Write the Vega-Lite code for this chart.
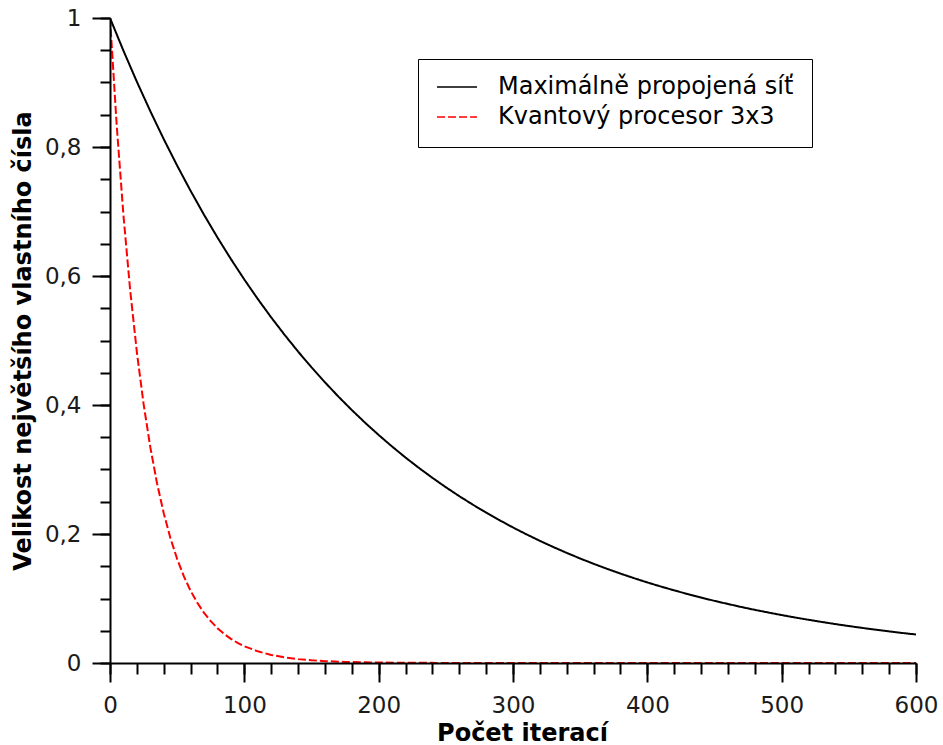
{
  "$schema": "https://vega.github.io/schema/vega-lite/v6.json",
  "width": 806,
  "height": 645,
  "autosize": "none",
  "padding": {"left": 110, "top": 18, "right": 27, "bottom": 82},
  "background": "white",
  "config": {
    "view": {"stroke": null},
    "font": "DejaVu Sans",
    "axis": {"grid": false, "domainColor": "black", "tickColor": "black", "labelColor": "#1a1a1a", "titleColor": "black", "zindex": 1}
  },
  "datasets": {
    "curves": [
      {"iter": 0, "val": 1, "series": "Maximálně propojená síť"},
      {"iter": 10, "val": 0.9493, "series": "Maximálně propojená síť"},
      {"iter": 20, "val": 0.9012, "series": "Maximálně propojená síť"},
      {"iter": 30, "val": 0.8556, "series": "Maximálně propojená síť"},
      {"iter": 40, "val": 0.8122, "series": "Maximálně propojená síť"},
      {"iter": 50, "val": 0.7711, "series": "Maximálně propojená síť"},
      {"iter": 60, "val": 0.732, "series": "Maximálně propojená síť"},
      {"iter": 70, "val": 0.6949, "series": "Maximálně propojená síť"},
      {"iter": 80, "val": 0.6597, "series": "Maximálně propojená síť"},
      {"iter": 90, "val": 0.6263, "series": "Maximálně propojená síť"},
      {"iter": 100, "val": 0.5945, "series": "Maximálně propojená síť"},
      {"iter": 110, "val": 0.5644, "series": "Maximálně propojená síť"},
      {"iter": 120, "val": 0.5358, "series": "Maximálně propojená síť"},
      {"iter": 130, "val": 0.5087, "series": "Maximálně propojená síť"},
      {"iter": 140, "val": 0.4829, "series": "Maximálně propojená síť"},
      {"iter": 150, "val": 0.4584, "series": "Maximálně propojená síť"},
      {"iter": 160, "val": 0.4352, "series": "Maximálně propojená síť"},
      {"iter": 170, "val": 0.4131, "series": "Maximálně propojená síť"},
      {"iter": 180, "val": 0.3922, "series": "Maximálně propojená síť"},
      {"iter": 190, "val": 0.3723, "series": "Maximálně propojená síť"},
      {"iter": 200, "val": 0.3535, "series": "Maximálně propojená síť"},
      {"iter": 210, "val": 0.3356, "series": "Maximálně propojená síť"},
      {"iter": 220, "val": 0.3185, "series": "Maximálně propojená síť"},
      {"iter": 230, "val": 0.3024, "series": "Maximálně propojená síť"},
      {"iter": 240, "val": 0.2871, "series": "Maximálně propojená síť"},
      {"iter": 250, "val": 0.2725, "series": "Maximálně propojená síť"},
      {"iter": 260, "val": 0.2587, "series": "Maximálně propojená síť"},
      {"iter": 270, "val": 0.2456, "series": "Maximálně propojená síť"},
      {"iter": 280, "val": 0.2332, "series": "Maximálně propojená síť"},
      {"iter": 290, "val": 0.2214, "series": "Maximálně propojená síť"},
      {"iter": 300, "val": 0.2101, "series": "Maximálně propojená síť"},
      {"iter": 310, "val": 0.1995, "series": "Maximálně propojená síť"},
      {"iter": 320, "val": 0.1894, "series": "Maximálně propojená síť"},
      {"iter": 330, "val": 0.1798, "series": "Maximálně propojená síť"},
      {"iter": 340, "val": 0.1707, "series": "Maximálně propojená síť"},
      {"iter": 350, "val": 0.162, "series": "Maximálně propojená síť"},
      {"iter": 360, "val": 0.1538, "series": "Maximálně propojená síť"},
      {"iter": 370, "val": 0.146, "series": "Maximálně propojená síť"},
      {"iter": 380, "val": 0.1386, "series": "Maximálně propojená síť"},
      {"iter": 390, "val": 0.1316, "series": "Maximálně propojená síť"},
      {"iter": 400, "val": 0.1249, "series": "Maximálně propojená síť"},
      {"iter": 410, "val": 0.1186, "series": "Maximálně propojená síť"},
      {"iter": 420, "val": 0.1126, "series": "Maximálně propojená síť"},
      {"iter": 430, "val": 0.1069, "series": "Maximálně propojená síť"},
      {"iter": 440, "val": 0.1015, "series": "Maximálně propojená síť"},
      {"iter": 450, "val": 0.0963, "series": "Maximálně propojená síť"},
      {"iter": 460, "val": 0.0915, "series": "Maximálně propojená síť"},
      {"iter": 470, "val": 0.0868, "series": "Maximálně propojená síť"},
      {"iter": 480, "val": 0.0824, "series": "Maximálně propojená síť"},
      {"iter": 490, "val": 0.0783, "series": "Maximálně propojená síť"},
      {"iter": 500, "val": 0.0743, "series": "Maximálně propojená síť"},
      {"iter": 510, "val": 0.0705, "series": "Maximálně propojená síť"},
      {"iter": 520, "val": 0.067, "series": "Maximálně propojená síť"},
      {"iter": 530, "val": 0.0636, "series": "Maximálně propojená síť"},
      {"iter": 540, "val": 0.0603, "series": "Maximálně propojená síť"},
      {"iter": 550, "val": 0.0573, "series": "Maximálně propojená síť"},
      {"iter": 560, "val": 0.0544, "series": "Maximálně propojená síť"},
      {"iter": 570, "val": 0.0516, "series": "Maximálně propojená síť"},
      {"iter": 580, "val": 0.049, "series": "Maximálně propojená síť"},
      {"iter": 590, "val": 0.0465, "series": "Maximálně propojená síť"},
      {"iter": 600, "val": 0.0442, "series": "Maximálně propojená síť"},
      {"iter": 0, "val": 1, "series": "Kvantový procesor 3x3"},
      {"iter": 5, "val": 0.8332, "series": "Kvantový procesor 3x3"},
      {"iter": 10, "val": 0.6942, "series": "Kvantový procesor 3x3"},
      {"iter": 15, "val": 0.5784, "series": "Kvantový procesor 3x3"},
      {"iter": 20, "val": 0.4819, "series": "Kvantový procesor 3x3"},
      {"iter": 25, "val": 0.4016, "series": "Kvantový procesor 3x3"},
      {"iter": 30, "val": 0.3346, "series": "Kvantový procesor 3x3"},
      {"iter": 35, "val": 0.2788, "series": "Kvantový procesor 3x3"},
      {"iter": 40, "val": 0.2323, "series": "Kvantový procesor 3x3"},
      {"iter": 45, "val": 0.1935, "series": "Kvantový procesor 3x3"},
      {"iter": 50, "val": 0.1612, "series": "Kvantový procesor 3x3"},
      {"iter": 55, "val": 0.1343, "series": "Kvantový procesor 3x3"},
      {"iter": 60, "val": 0.1119, "series": "Kvantový procesor 3x3"},
      {"iter": 65, "val": 0.0933, "series": "Kvantový procesor 3x3"},
      {"iter": 70, "val": 0.0777, "series": "Kvantový procesor 3x3"},
      {"iter": 75, "val": 0.0648, "series": "Kvantový procesor 3x3"},
      {"iter": 80, "val": 0.054, "series": "Kvantový procesor 3x3"},
      {"iter": 85, "val": 0.045, "series": "Kvantový procesor 3x3"},
      {"iter": 90, "val": 0.0375, "series": "Kvantový procesor 3x3"},
      {"iter": 95, "val": 0.0312, "series": "Kvantový procesor 3x3"},
      {"iter": 100, "val": 0.026, "series": "Kvantový procesor 3x3"},
      {"iter": 110, "val": 0.0181, "series": "Kvantový procesor 3x3"},
      {"iter": 120, "val": 0.0125, "series": "Kvantový procesor 3x3"},
      {"iter": 130, "val": 0.0087, "series": "Kvantový procesor 3x3"},
      {"iter": 140, "val": 0.006, "series": "Kvantový procesor 3x3"},
      {"iter": 150, "val": 0.0042, "series": "Kvantový procesor 3x3"},
      {"iter": 160, "val": 0.0029, "series": "Kvantový procesor 3x3"},
      {"iter": 175, "val": 0.0017, "series": "Kvantový procesor 3x3"},
      {"iter": 200, "val": 0.0007, "series": "Kvantový procesor 3x3"},
      {"iter": 250, "val": 0.0001, "series": "Kvantový procesor 3x3"},
      {"iter": 300, "val": 0.00002, "series": "Kvantový procesor 3x3"},
      {"iter": 400, "val": 0, "series": "Kvantový procesor 3x3"},
      {"iter": 600, "val": 0, "series": "Kvantový procesor 3x3"}
    ]
  },
  "data": {"name": "curves"},
  "layer": [
    {
      "mark": {"type": "line", "opacity": 0},
      "encoding": {
        "x": {"field": "iter", "type": "quantitative", "scale": {"domain": [0, 600], "nice": false},
          "axis": {"orient": "bottom", "values": [0,20,40,60,80,100,120,140,160,180,200,220,240,260,280,300,320,340,360,380,400,420,440,460,480,500,520,540,560,580,600], "labels": false, "domain": false, "tickSize": 11, "tickWidth": 2, "title": null, "zindex": 1}},
        "y": {"field": "val", "type": "quantitative", "scale": {"domain": [0, 1], "nice": false},
          "axis": {"orient": "left", "values": [0,0.05,0.1,0.15,0.2,0.25,0.3,0.35,0.4,0.45,0.5,0.55,0.6,0.65,0.7,0.75,0.8,0.85,0.9,0.95,1], "labels": false, "domain": false, "tickSize": 10, "tickWidth": 2, "title": null, "zindex": 1}},
        "detail": {"field": "series"}
      }
    },
    {
      "mark": {"type": "line", "strokeWidth": 2, "clip": true},
      "encoding": {
        "x": {"field": "iter", "type": "quantitative",
          "axis": {"orient": "bottom", "values": [0,100,200,300,400,500,600], "tickSize": 19, "tickWidth": 2, "domainWidth": 2, "labelFontSize": 23, "labelPadding": 12, "labelFlush": false, "title": "Počet iterací", "titleFontSize": 24, "titleFontWeight": "bold", "titlePadding": 4, "titleX": 412, "zindex": 1}},
        "y": {"field": "val", "type": "quantitative",
          "axis": {"orient": "left", "values": [0,0.2,0.4,0.6,0.8,1], "tickSize": 18, "tickWidth": 2, "domainWidth": 2, "labelFontSize": 23, "labelPadding": 11, "labelFlush": false, "labelExpr": "replace(format(datum.value, '~g'), '.', ',')", "title": "Velikost největšího vlastního čísla", "titleFontSize": 24, "titleFontWeight": "bold", "titlePadding": 9, "zindex": 1}},
        "color": {"field": "series", "type": "nominal",
          "scale": {"domain": ["Maximálně propojená síť", "Kvantový procesor 3x3"], "range": ["black", "red"]},
          "legend": {"title": null, "orient": "none", "legendX": 308, "legendY": 41, "strokeColor": "black", "fillColor": "white", "padding": 18, "rowPadding": 6, "clipHeight": 20, "symbolType": "stroke", "symbolSize": 1600, "symbolStrokeWidth": 1.5, "labelFontSize": 24, "labelOffset": 20, "labelColor": "black", "labelLimit": 500}},
        "strokeDash": {"field": "series", "type": "nominal",
          "scale": {"domain": ["Maximálně propojená síť", "Kvantový procesor 3x3"], "range": [[1, 0], [8, 3]]},
          "legend": {"title": null, "orient": "none", "legendX": 308, "legendY": 41, "strokeColor": "black", "fillColor": "white", "padding": 18, "rowPadding": 6, "clipHeight": 20, "symbolType": "stroke", "symbolSize": 1600, "symbolStrokeWidth": 1.5, "labelFontSize": 24, "labelOffset": 20, "labelColor": "black", "labelLimit": 500}}
      }
    }
  ],
  "resolve": {"axis": {"x": "independent", "y": "independent"}}
}
